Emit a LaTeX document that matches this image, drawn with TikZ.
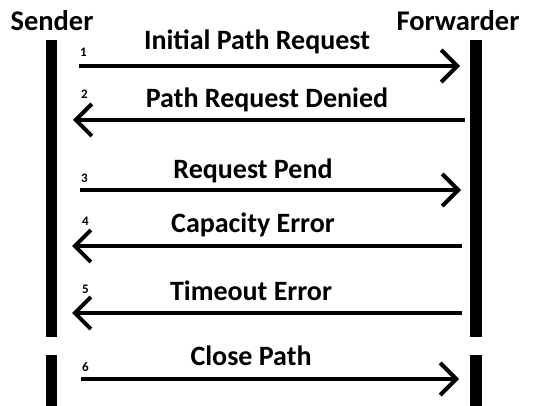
\documentclass[tikz,border=0pt]{standalone}
\usepackage{fontspec}
\setmainfont{Carlito}
\usetikzlibrary{arrows.meta}
\begin{document}
\begin{tikzpicture}[x=1pt,y=-1pt,
  party/.style={font=\bfseries\fontsize{28.5}{30}\selectfont, inner sep=0pt, anchor=base},
  msg/.style={font=\bfseries\fontsize{28}{30}\selectfont, inner sep=0pt, anchor=base},
  num/.style={font=\bfseries\fontsize{13}{15}\selectfont, inner sep=0pt, anchor=base west},
  lifeline/.style={fill=black},
  call/.style={line width=4pt, -{Straight Barb[length=16pt,width=32pt,line width=4pt]}}]
\useasboundingbox (0,0) rectangle (533,406);
% participants
\node[party] (snd) at (52,31) {Sender};
\node[party] (fwd) at (458,31) {Forwarder};
% lifelines, with a gap before the closing message
\fill[lifeline] (46,40) rectangle (57,337);
\fill[lifeline] (46,355) rectangle (57,406);
\fill[lifeline] (470,40) rectangle (482,337);
\fill[lifeline] (470,355) rectangle (482,406);
% message end points
\coordinate (s1) at (79,66);  \coordinate (f1) at (460,66);
\coordinate (s2) at (73,120); \coordinate (f2) at (465,120);
\coordinate (s3) at (80,190); \coordinate (f3) at (461,190);
\coordinate (s4) at (72,246); \coordinate (f4) at (462,246);
\coordinate (s5) at (72,313); \coordinate (f5) at (462,313);
\coordinate (s6) at (81,379); \coordinate (f6) at (459,379);
% messages
\draw[call] (s1) -- (f1);
\draw[call] (f2) -- (s2);
\draw[call] (s3) -- (f3);
\draw[call] (f4) -- (s4);
\draw[call] (f5) -- (s5);
\draw[call] (s6) -- (f6);
% message labels
\node[msg] (m1) at (257,50) {Initial Path Request};
\node[msg] (m2) at (267,108) {Path Request Denied};
\node[msg] (m3) at (253,179) {Request Pend};
\node[msg] (m4) at (253,233) {Capacity Error};
\node[msg] (m5) at (251,301) {Timeout Error};
\node[msg] (m6) at (251,365) {Close Path};
% sequence numbers
\node[num] (n1) at (80,57) {1};
\node[num] (n2) at (81,99) {2};
\node[num] (n3) at (81,183) {3};
\node[num] (n4) at (82,226) {4};
\node[num] (n5) at (82,294) {5};
\node[num] (n6) at (82,371) {6};
\end{tikzpicture}
\end{document}
